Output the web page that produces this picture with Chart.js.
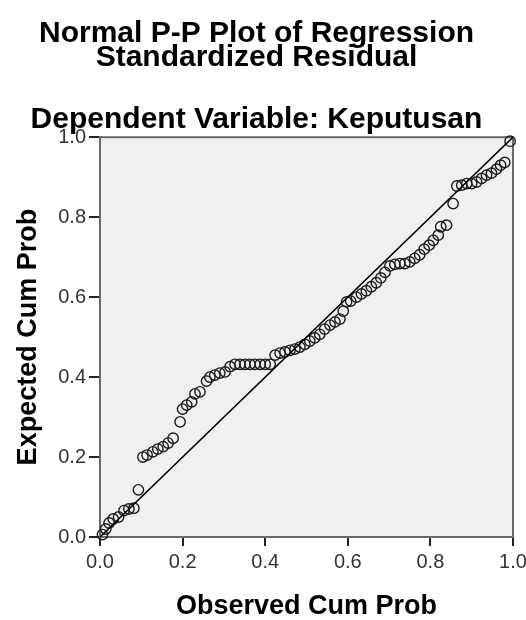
<!DOCTYPE html>
<html>
<head>
<meta charset="utf-8">
<script src="https://cdn.jsdelivr.net/npm/chart.js@4.4.1/dist/chart.umd.min.js"></script>
<style>
  html, body { margin: 0; padding: 0; background: #fff; }
  #wrap { width: 526px; height: 620px; }
</style>
</head>
<body>
<div id="wrap"><canvas id="ppChart" width="526" height="620"></canvas></div>
<script>
const titleLines = ['Normal P-P Plot of Regression', 'Standardized Residual']
const subTitle = 'Dependent Variable: Keputusan'
const xTitle = 'Observed Cum Prob'
const yTitle = 'Expected Cum Prob'
const tickValues = [0, 0.2, 0.4, 0.6, 0.8, 1.0]

// observed cum prob (x) and expected cum prob (y)
const observed = [0.006,0.014,0.022,0.032,0.045,0.058,0.070,0.082,0.093,0.104,
  0.114,0.128,0.140,0.153,0.165,0.177,0.194,0.200,0.210,0.222,
  0.230,0.242,0.258,0.266,0.278,0.290,0.303,0.315,0.327,0.339,
  0.351,0.363,0.375,0.388,0.400,0.412,0.424,0.436,0.448,0.460,
  0.472,0.484,0.496,0.508,0.520,0.532,0.544,0.557,0.569,0.581,
  0.589,0.597,0.607,0.621,0.633,0.645,0.657,0.669,0.680,0.690,
  0.702,0.714,0.726,0.738,0.750,0.762,0.774,0.785,0.797,0.807,
  0.819,0.825,0.839,0.855,0.864,0.876,0.888,0.900,0.912,0.924,
  0.936,0.948,0.960,0.970,0.980,0.993]
const expected = [0.006,0.020,0.035,0.045,0.050,0.066,0.070,0.072,0.118,0.200,
  0.205,0.213,0.220,0.226,0.235,0.247,0.288,0.320,0.330,0.338,
  0.358,0.363,0.390,0.400,0.405,0.410,0.413,0.426,0.432,0.432,
  0.432,0.432,0.432,0.432,0.432,0.432,0.455,0.460,0.463,0.467,
  0.470,0.475,0.482,0.490,0.498,0.507,0.520,0.530,0.538,0.545,
  0.565,0.588,0.590,0.600,0.608,0.616,0.626,0.636,0.648,0.662,
  0.678,0.682,0.684,0.684,0.688,0.697,0.706,0.720,0.730,0.742,
  0.755,0.776,0.780,0.834,0.878,0.880,0.884,0.884,0.888,0.897,
  0.905,0.910,0.920,0.930,0.937,0.990]
const refLine = [0, 1]

const FONT = '"Liberation Sans", Arial, sans-serif'

// grey plot area + frame
const plotFrame = {
  id: 'plotFrame',
  beforeDatasetsDraw(chart) {
    const {ctx, chartArea: a} = chart
    ctx.save()
    ctx.fillStyle = '#f0f0f0'
    ctx.fillRect(a.left, a.top, a.width, a.height)
    ctx.strokeStyle = '#6a6a6a'
    ctx.lineWidth = 2
    ctx.strokeRect(a.left, a.top, a.width, a.height)
    ctx.restore()
  }
}

const noPad = (scale) => {
  scale.paddingLeft = 0
  scale.paddingRight = 0
  scale.paddingTop = 0
  scale.paddingBottom = 0
}

new Chart(document.getElementById('ppChart'), {
  type: 'scatter',
  data: {
    datasets: [
      {
        label: 'ref',
        type: 'line',
        data: refLine.map(v => ({x: v, y: v})),
        borderColor: '#000',
        borderWidth: 1.6,
        pointRadius: 0,
        fill: false
      },
      {
        label: 'residuals',
        data: observed.map((x, i) => ({x: x, y: expected[i]})),
        pointStyle: 'circle',
        pointRadius: 5.2,
        borderColor: '#1a1a1a',
        borderWidth: 1.4,
        backgroundColor: 'rgba(0,0,0,0)',
        clip: false
      }
    ]
  },
  options: {
    responsive: false,
    animation: false,
    layout: { padding: { left: 0, right: 13, top: 0, bottom: 0 } },
    plugins: {
      legend: { display: false },
      tooltip: { enabled: false },
      title: {
        display: true,
        text: titleLines,
        color: '#000',
        font: { family: FONT, size: 30, weight: 'bold', lineHeight: 0.82 },
        padding: { top: 21, bottom: 35 }
      },
      subtitle: {
        display: true,
        text: subTitle,
        color: '#000',
        font: { family: FONT, size: 30, weight: 'bold', lineHeight: 1 },
        padding: { top: 0, bottom: 2 }
      }
    },
    scales: {
      x: {
        type: 'linear',
        min: 0,
        max: 1,
        afterBuildTicks: (s) => { s.ticks = tickValues.map(v => ({value: v})) },
        afterFit: (s) => { s.height = 83; noPad(s) },
        ticks: {
          color: '#333',
          padding: 4,
          font: { family: FONT, size: 20 },
          callback: v => v.toFixed(1)
        },
        grid: { drawOnChartArea: false, drawTicks: true, tickLength: 9, color: '#222', lineWidth: 2 },
        border: { display: true, color: '#333', width: 2 },
        title: {
          display: true,
          text: xTitle,
          color: '#000',
          font: { family: FONT, size: 27, weight: 'bold', lineHeight: 1 },
          padding: { top: 0, bottom: 0 }
        }
      },
      y: {
        type: 'linear',
        min: 0,
        max: 1,
        afterBuildTicks: (s) => { s.ticks = tickValues.map(v => ({value: v})) },
        afterFit: (s) => { s.width = 100; noPad(s) },
        ticks: {
          color: '#333',
          padding: 3,
          font: { family: FONT, size: 20 },
          callback: v => v.toFixed(1)
        },
        grid: { drawOnChartArea: false, drawTicks: true, tickLength: 11, color: '#222', lineWidth: 2 },
        border: { display: true, color: '#6a6a6a', width: 3 },
        title: {
          display: true,
          text: yTitle,
          color: '#000',
          font: { family: FONT, size: 27, weight: 'bold', lineHeight: 1 },
          padding: { top: 15, bottom: 0 }
        }
      }
    }
  },
  plugins: [plotFrame]
})
</script>
</body>
</html>
